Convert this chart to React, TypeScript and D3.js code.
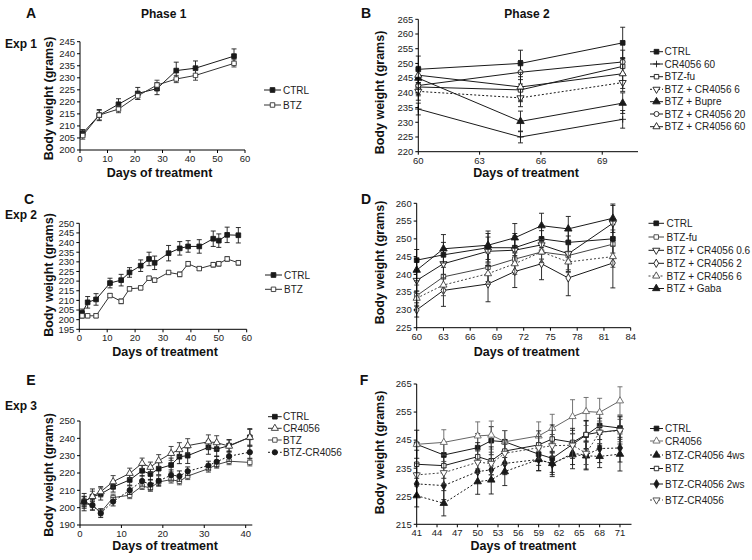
import React from 'react';
import * as d3 from 'd3';

const FONT = '"Liberation Sans", Arial, Helvetica, sans-serif';

// ---------- Panel A (Exp 1, Phase 1) ----------
const daysA = [1, 7, 14, 21, 28, 35, 42, 56];
const ctrlA = [207, 214.5, 219, 223.5, 225.5, 233, 234, 239];
const ctrlAErr = [1.5, 2.3, 2.3, 2.5, 2.5, 3.5, 3, 3];
const btzA = [206, 214.5, 217, 222.5, 227, 229.5, 231, 236];
const btzAErr = [1.5, 2, 1.5, 1.5, 2, 1.5, 2, 1.5];

// ---------- Panel B (Exp 1, Phase 2) ----------
const daysB = [60, 65, 70];
const ctrlB = [248, 250, 257];
const ctrlBErr = [4.5, 4.5, 5.3];
const cr60B = [234.5, 225, 231];
const cr60BErr = [2, 2, 3];
const btzFuB = [242, 241, 249];
const btzFuBErr = [3, 3.5, 3];
const btzCr6B = [240.5, 238.3, 243.5];
const btzCr6BErr = [3, 3, 3];
const bupreB = [245, 230.3, 236.5];
const bupreBErr = [3, 3.5, 3.5];
const btzCr20B = [242.5, 247, 250.5];
const btzCr20BErr = [3, 4, 4];
const btzCr60B = [246, 242, 246.5];
const btzCr60BErr = [3, 5, 5];

// ---------- Panel C (Exp 2, Phase 1) ----------
const daysC = [1, 3, 6, 11, 15, 18, 22, 25, 27, 32, 36, 39, 43, 48, 50, 53, 57];
const ctrlC = [203.5, 209, 210.5, 219, 220.5, 224.5, 228, 231.5, 229.5, 234.5, 237, 238, 238, 242, 241, 244, 243.8];
const ctrlCErr = [2, 3, 3, 2.5, 3, 2.5, 3, 3.5, 3.5, 4, 3.5, 3, 3.5, 4, 3.5, 4, 4];
const btzC = [202, 202, 202, 212.5, 209.5, 216, 216.5, 221.5, 220.5, 224.5, 223.5, 229, 226.5, 228.5, 229, 231.5, 229.5];
const btzCErr = [1.2, 1, 1, 1, 1.2, 1, 1, 1, 1, 1, 1.2, 1.2, 1, 1.2, 1.2, 1.2, 1.2];

// ---------- Panel D (Exp 2, Phase 2) ----------
const daysD = [60, 63, 68, 71, 74, 77, 82];
const ctrlD = [244, 245.5, 247.5, 247.5, 250, 249, 250];
const ctrlDErr = [3, 3.5, 4, 4, 3.5, 4, 4];
const btzFuD = [234, 239.3, 242, 244.3, 246.3, 245.3, 248.5];
const btzFuDErr = [3, 3.5, 4, 3.5, 3.5, 4, 4];
const cr06D = [238.3, 243, 246.5, 246.8, 248.3, 245.8, 254.4];
const cr06DErr = [3, 4, 4, 4, 4, 5, 5];
const cr2D = [230, 235.5, 237.3, 240.8, 243, 239, 243.2];
const cr2DErr = [2, 4.5, 5, 4.5, 4.5, 5, 7];
const cr6D = [233.3, 237, 240.2, 243, 246.3, 243.5, 245];
const cr6DErr = [2, 3, 3, 3, 3, 3, 3];
const gabaD = [241.2, 247.2, 248.2, 250.3, 253.7, 252.8, 255.8];
const gabaDErr = [3, 4, 4, 4, 3.5, 3.5, 4];

// ---------- Panel E (Exp 3, Phase 1) ----------
const daysE = [1, 3, 5, 8, 12, 15, 17, 19, 22, 24, 26, 31, 33, 36, 41];
const ctrlE = [203.5, 206.3, 207.9, 212, 216, 221.3, 219.4, 222.5, 224.6, 229.4, 230, 234.8, 233.8, 235.8, 240.6];
const ctrlEErr = [3, 4.5, 3.5, 3, 3, 3, 3.5, 3.5, 4, 4, 4.5, 4, 4, 3.5, 5];
const crE = [203.5, 206.5, 209.2, 215, 219.8, 225.6, 223.3, 227.1, 231.3, 233.5, 235.8, 238, 237.5, 235.5, 240.6];
const crEErr = [3, 3, 3, 3.5, 3, 3, 3, 3.5, 4, 4, 4, 4, 4, 3.5, 4.5];
const btzE = [202.5, 201.3, 197.3, 205.8, 207.2, 212.5, 211.4, 214.8, 216.2, 215.2, 218.2, 222.5, 224.8, 226.8, 226.1];
const btzEErr = [3, 2.5, 2, 2, 2, 2, 2, 2, 2, 2, 2, 2, 2, 2, 2];
const btzCrE = [203.2, 201.5, 196.8, 203.5, 210.1, 215.4, 213.3, 215.4, 218.8, 218.2, 221, 224.3, 226.5, 229.7, 232];
const btzCrEErr = [5, 3, 2.5, 2.5, 2.5, 3, 3, 3, 3, 3, 2.5, 2.5, 3, 3, 3.5];

// ---------- Panel F (Exp 3, Phase 2) ----------
const daysF = [41, 45, 50, 52, 54, 59, 61, 64, 66, 68, 71];
const ctrlF = [243.5, 239.7, 242.3, 244.8, 244.4, 240, 238.5, 243.5, 246.8, 250.2, 249.3];
const ctrlFErr = [5, 4.5, 5, 5, 4, 4, 5, 5, 5, 5, 4];
const crF = [243.5, 244.2, 246.5, 246.8, 244.4, 246.5, 249.2, 253.4, 255.2, 254.9, 259];
const crFErr = [5, 4.5, 5, 5, 4, 5, 5, 6, 5, 5, 5];
const cr4wsF = [225.2, 222.5, 230.2, 230.8, 233.8, 238.1, 236.7, 239.8, 239.4, 239.2, 240];
const cr4wsFErr = [4, 4.5, 4.5, 5, 5, 4, 4, 5, 5, 4, 6];
const btzF = [236.4, 235.9, 239.1, 237.6, 241.1, 243.3, 245.4, 244.2, 247, 247.8, 248.6];
const btzFErr = [5, 4.5, 5, 5, 4, 5, 5, 5, 5, 5, 5];
const cr2wsF = [229.4, 228.8, 233.8, 234.4, 236.7, 238.1, 236.5, 240.3, 239.7, 242, 242.2];
const cr2wsFErr = [4, 5, 4, 4, 4, 4, 4.5, 4, 5, 5, 5];
const btzCrF = [232.6, 233.4, 237.1, 236.7, 240.3, 242.3, 243, 243.2, 240.3, 247.8, 248.4];
const btzCrFErr = [4, 4, 4, 4, 4, 4, 4, 4, 4, 4, 4];

// ---------- tick labels ----------
const xTicksA = [0, 10, 20, 30, 40, 50, 60];
const xTicksB = [60, 63, 66, 69];
const xTicksD = [60, 63, 66, 69, 72, 75, 78, 81, 84];
const xTicksE = [0, 10, 20, 30, 40];
const xTicksF = [41, 44, 47, 50, 53, 56, 59, 62, 65, 68, 71];

type MarkerType = 'sq' | 'sqo' | 'tri' | 'trio' | 'trido' | 'circ' | 'circo' | 'dia' | 'diao' | 'plus';

interface Series {
  name: string;
  x: number[];
  y: number[];
  err: number[];
  marker: MarkerType;
  dash?: boolean;
  legendSolid?: boolean;
  color?: string;
}

interface PanelCfg {
  left: number; right: number; top: number; bottom: number;
  xDomain: [number, number]; yDomain: [number, number];
  xTicks: number[]; yStep: number;
  series: Series[];
  legendX0: number; legendX1: number; legendTextX: number; legendRows: number[];
  yLabel: [number, number]; xLabel: [number, number];
}

const symPlus: any = (d3 as any).symbolPlus || d3.symbolCross;

function markerInfo(t: MarkerType) {
  const s = d3.symbol();
  switch (t) {
    case 'sq': return { d: s.type(d3.symbolSquare).size(22)() as string, fill: true, rot: 0 };
    case 'sqo': return { d: s.type(d3.symbolSquare).size(20)() as string, fill: false, rot: 0 };
    case 'tri': return { d: s.type(d3.symbolTriangle).size(24)() as string, fill: true, rot: 0 };
    case 'trio': return { d: s.type(d3.symbolTriangle).size(22)() as string, fill: false, rot: 0 };
    case 'trido': return { d: s.type(d3.symbolTriangle).size(22)() as string, fill: false, rot: 180 };
    case 'circ': return { d: s.type(d3.symbolCircle).size(22)() as string, fill: true, rot: 0 };
    case 'circo': return { d: s.type(d3.symbolCircle).size(20)() as string, fill: false, rot: 0 };
    case 'dia': return { d: s.type(d3.symbolDiamond).size(22)() as string, fill: true, rot: 0 };
    case 'diao': return { d: s.type(d3.symbolDiamond).size(20)() as string, fill: false, rot: 0 };
    case 'plus': return { d: s.type(symPlus).size(16)() as string, fill: false, rot: 0, plus: true };
  }
}

function Marker({ t, x, y, color }: { t: MarkerType; x: number; y: number; color: string }) {
  const m: any = markerInfo(t);
  return (
    <path
      d={m.d}
      transform={`translate(${x},${y}) rotate(${m.rot})`}
      fill={m.plus ? 'none' : m.fill ? color : '#fff'}
      stroke={color}
      strokeWidth={0.9}
    />
  );
}

function Panel({ p }: { p: PanelCfg }) {
  const x = d3.scaleLinear().domain(p.xDomain).range([p.left, p.right]);
  const y = d3.scaleLinear().domain(p.yDomain).range([p.bottom, p.top]);
  const yTicks = d3.range(p.yDomain[0], p.yDomain[1] + 0.001, p.yStep);
  const line = d3.line<[number, number]>().x(d => x(d[0])).y(d => y(d[1]));
  return (
    <g fontFamily={FONT}>
      {p.series.map((s, si) => {
        const c = s.color || '#1a1a1a';
        const pts = s.x.map((xv, i) => [xv, s.y[i]] as [number, number]);
        return (
          <g key={si}>
            {pts.map((pt, i) => {
              const cx = x(pt[0]);
              const y1 = y(pt[1] + s.err[i]);
              const y2 = y(pt[1] - s.err[i]);
              return (
                <g key={i} stroke={c} strokeWidth={0.9}>
                  <line x1={cx} x2={cx} y1={y1} y2={y2} />
                  <line x1={cx - 2.5} x2={cx + 2.5} y1={y1} y2={y1} />
                  <line x1={cx - 2.5} x2={cx + 2.5} y1={y2} y2={y2} />
                </g>
              );
            })}
            <path d={line(pts) as string} fill="none" stroke={c} strokeWidth={1} strokeDasharray={s.dash ? '2,2' : undefined} />
            {pts.map((pt, i) => (
              <Marker key={i} t={s.marker} x={x(pt[0])} y={y(pt[1])} color={c} />
            ))}
          </g>
        );
      })}
      <line x1={p.left} x2={p.left} y1={p.top} y2={p.bottom} stroke="#000" strokeWidth={1} />
      <line x1={p.left} x2={p.right} y1={p.bottom} y2={p.bottom} stroke="#000" strokeWidth={1} />
      {yTicks.map(t => (
        <g key={'y' + t}>
          <line x1={p.left - 3} x2={p.left} y1={y(t)} y2={y(t)} stroke="#000" />
          <text x={p.left - 5} y={y(t)} dy="0.35em" textAnchor="end" fontSize={9.5} fill="#222">{t}</text>
        </g>
      ))}
      {p.xTicks.map(t => (
        <g key={'x' + t}>
          <line x1={x(t)} x2={x(t)} y1={p.bottom} y2={p.bottom + 3} stroke="#000" />
          <text x={x(t)} y={p.bottom + 12} textAnchor="middle" fontSize={9.5} fill="#222">{t}</text>
        </g>
      ))}
      <text
        transform={`translate(${p.yLabel[0]},${p.yLabel[1]}) rotate(-90)`}
        textAnchor="middle" dy="0.35em" fontSize={12.5} fontWeight="bold" fill="#111"
      >Body weight (grams)</text>
      <text x={p.xLabel[0]} y={p.xLabel[1]} dy="0.35em" textAnchor="middle" fontSize={12.5} fontWeight="bold" fill="#111">
        Days of treatment
      </text>
      {p.series.map((s, si) => {
        const c = s.color || '#1a1a1a';
        const ly = p.legendRows[si];
        return (
          <g key={'l' + si}>
            <line x1={p.legendX0} x2={p.legendX1} y1={ly} y2={ly} stroke={c}
              strokeDasharray={s.dash && !s.legendSolid ? '2,2' : undefined} />
            <Marker t={s.marker} x={(p.legendX0 + p.legendX1) / 2} y={ly} color={c} />
            <text x={p.legendTextX} y={ly} dy="0.35em" fontSize={10} fill="#222">{s.name}</text>
          </g>
        );
      })}
    </g>
  );
}

const panels: PanelCfg[] = [
  {
    left: 80, right: 245, top: 41.7, bottom: 150,
    xDomain: [0, 60], yDomain: [200, 245], xTicks: xTicksA, yStep: 5,
    series: [
      { name: 'CTRL', x: daysA, y: ctrlA, err: ctrlAErr, marker: 'sq' },
      { name: 'BTZ', x: daysA, y: btzA, err: btzAErr, marker: 'sqo', color: '#333' },
    ],
    legendX0: 264, legendX1: 281, legendTextX: 283, legendRows: [90, 105],
    yLabel: [48.5, 98.5], xLabel: [159.5, 173],
  },
  {
    left: 418.3, right: 638, top: 19.3, bottom: 151.7,
    xDomain: [60, 70.75], yDomain: [220, 265], xTicks: xTicksB, yStep: 5,
    series: [
      { name: 'CTRL', x: daysB, y: ctrlB, err: ctrlBErr, marker: 'sq' },
      { name: 'CR4056 60', x: daysB, y: cr60B, err: cr60BErr, marker: 'plus' },
      { name: 'BTZ-fu', x: daysB, y: btzFuB, err: btzFuBErr, marker: 'sqo' },
      { name: 'BTZ + CR4056 6', x: daysB, y: btzCr6B, err: btzCr6BErr, marker: 'trido', dash: true },
      { name: 'BTZ + Bupre', x: daysB, y: bupreB, err: bupreBErr, marker: 'tri' },
      { name: 'BTZ + CR4056 20', x: daysB, y: btzCr20B, err: btzCr20BErr, marker: 'circo' },
      { name: 'BTZ + CR4056 60', x: daysB, y: btzCr60B, err: btzCr60BErr, marker: 'trio' },
    ],
    legendX0: 650, legendX1: 663, legendTextX: 664.5, legendRows: [51.7, 64, 76.7, 89.3, 101.7, 114, 126.7],
    yLabel: [380, 92.5], xLabel: [526, 173],
  },
  {
    left: 79.3, right: 246.7, top: 223.3, bottom: 329.3,
    xDomain: [0, 60], yDomain: [195, 250], xTicks: xTicksA, yStep: 5,
    series: [
      { name: 'CTRL', x: daysC, y: ctrlC, err: ctrlCErr, marker: 'sq' },
      { name: 'BTZ', x: daysC, y: btzC, err: btzCErr, marker: 'sqo', color: '#333' },
    ],
    legendX0: 265, legendX1: 282, legendTextX: 284, legendRows: [275, 289.3],
    yLabel: [48.5, 275], xLabel: [165, 352],
  },
  {
    left: 416.7, right: 630.7, top: 203.3, bottom: 327.7,
    xDomain: [60, 84], yDomain: [225, 260], xTicks: xTicksD, yStep: 5,
    series: [
      { name: 'CTRL', x: daysD, y: ctrlD, err: ctrlDErr, marker: 'sq' },
      { name: 'BTZ-fu', x: daysD, y: btzFuD, err: btzFuDErr, marker: 'sqo', color: '#444' },
      { name: 'BTZ + CR4056 0.6', x: daysD, y: cr06D, err: cr06DErr, marker: 'trido' },
      { name: 'BTZ + CR4056 2', x: daysD, y: cr2D, err: cr2DErr, marker: 'diao' },
      { name: 'BTZ + CR4056 6', x: daysD, y: cr6D, err: cr6DErr, marker: 'trio', dash: true, color: '#444' },
      { name: 'BTZ + Gaba', x: daysD, y: gabaD, err: gabaDErr, marker: 'tri' },
    ],
    legendX0: 648.5, legendX1: 664, legendTextX: 666.5, legendRows: [223.3, 237, 250.3, 263.3, 276, 288.5],
    yLabel: [380, 262.5], xLabel: [526.5, 351.7],
  },
  {
    left: 80, right: 252.3, top: 421, bottom: 525,
    xDomain: [0, 41.6], yDomain: [190, 250], xTicks: xTicksE, yStep: 10,
    series: [
      { name: 'CTRL', x: daysE, y: ctrlE, err: ctrlEErr, marker: 'sq' },
      { name: 'CR4056', x: daysE, y: crE, err: crEErr, marker: 'trio', color: '#333' },
      { name: 'BTZ', x: daysE, y: btzE, err: btzEErr, marker: 'sqo', color: '#444' },
      { name: 'BTZ-CR4056', x: daysE, y: btzCrE, err: btzCrEErr, marker: 'circ', dash: true },
    ],
    legendX0: 268, legendX1: 281.7, legendTextX: 283, legendRows: [416.7, 428.3, 440, 452.3],
    yLabel: [48.5, 475], xLabel: [165, 545.7],
  },
  {
    left: 416.7, right: 631.5, top: 384, bottom: 524.3,
    xDomain: [41, 72.7], yDomain: [215, 265], xTicks: xTicksF, yStep: 10,
    series: [
      { name: 'CTRL', x: daysF, y: ctrlF, err: ctrlFErr, marker: 'sq' },
      { name: 'CR4056', x: daysF, y: crF, err: crFErr, marker: 'trio', color: '#666' },
      { name: 'BTZ-CR4056 4ws', x: daysF, y: cr4wsF, err: cr4wsFErr, marker: 'tri', dash: true },
      { name: 'BTZ', x: daysF, y: btzF, err: btzFErr, marker: 'sqo' },
      { name: 'BTZ-CR4056 2ws', x: daysF, y: cr2wsF, err: cr2wsFErr, marker: 'dia', dash: true, legendSolid: true },
      { name: 'BTZ-CR4056', x: daysF, y: btzCrF, err: btzCrFErr, marker: 'trido', dash: true, color: '#444' },
    ],
    legendX0: 650, legendX1: 663, legendTextX: 665, legendRows: [428.5, 441, 455, 468.5, 484, 500],
    yLabel: [380, 452.5], xLabel: [523.3, 546],
  },
];

const letters = [
  { t: 'A', x: 31, y: 13 },
  { t: 'B', x: 366, y: 13 },
  { t: 'C', x: 29, y: 199.5 },
  { t: 'D', x: 366, y: 199.5 },
  { t: 'E', x: 31, y: 380 },
  { t: 'F', x: 364, y: 380 },
];
const expLabels = [
  { t: 'Exp 1', x: 21, y: 43.5 },
  { t: 'Exp 2', x: 21, y: 215 },
  { t: 'Exp 3', x: 21, y: 406 },
];
const phaseLabels = [
  { t: 'Phase 1', x: 163.7, y: 14 },
  { t: 'Phase 2', x: 527, y: 14 },
];

export default function App() {
  return (
    <svg width={752} height={560} style={{ position: 'absolute', left: 0, top: 0, background: '#fff' }}>
      <rect width={752} height={560} fill="#fff" />
      {panels.map((p, i) => <Panel key={i} p={p} />)}
      {letters.map(l => (
        <text key={l.t} x={l.x} y={l.y} dy="0.35em" textAnchor="middle" fontFamily={FONT} fontWeight="bold" fontSize={14} fill="#111">{l.t}</text>
      ))}
      {expLabels.map(l => (
        <text key={l.t} x={l.x} y={l.y} dy="0.35em" textAnchor="middle" fontFamily={FONT} fontWeight="bold" fontSize={12} fill="#111">{l.t}</text>
      ))}
      {phaseLabels.map(l => (
        <text key={l.t} x={l.x} y={l.y} dy="0.35em" textAnchor="middle" fontFamily={FONT} fontWeight="bold" fontSize={12} fill="#111">{l.t}</text>
      ))}
    </svg>
  );
}
